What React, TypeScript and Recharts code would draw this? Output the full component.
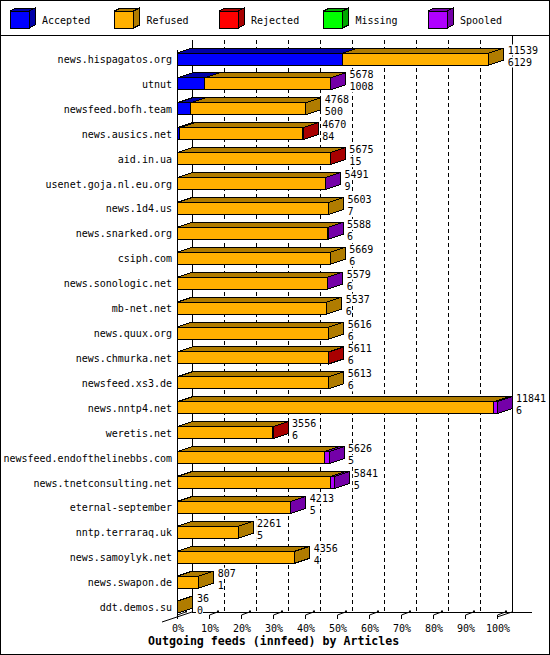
import React from 'react';
import { BarChart, Bar, XAxis, YAxis, CartesianGrid, LabelList } from 'recharts';

// innfeed outgoing feeds, one entry per peer
const hosts = [
  'news.hispagatos.org', 'utnut', 'newsfeed.bofh.team', 'news.ausics.net', 'aid.in.ua',
  'usenet.goja.nl.eu.org', 'news.1d4.us', 'news.snarked.org', 'csiph.com', 'news.sonologic.net',
  'mb-net.net', 'news.quux.org', 'news.chmurka.net', 'newsfeed.xs3.de', 'news.nntp4.net',
  'weretis.net', 'newsfeed.endofthelinebbs.com', 'news.tnetconsulting.net', 'eternal-september',
  'nntp.terraraq.uk', 'news.samoylyk.net', 'news.swapon.de', 'ddt.demos.su',
];
const totals = [11539, 5678, 4768, 4670, 5675, 5491, 5603, 5588, 5669, 5579, 5537, 5616, 5611, 5613, 11841, 3556, 5626, 5841, 4213, 2261, 4356, 807, 36];
const accepted = [6129, 1008, 500, 84, 15, 9, 7, 6, 6, 6, 6, 6, 6, 6, 6, 6, 5, 5, 5, 5, 4, 1, 0];
const refused = [5410, 4655, 4268, 4576, 5650, 5477, 5596, 5577, 5663, 5568, 5531, 5610, 5595, 5607, 11715, 3540, 5441, 5686, 4198, 2256, 4352, 806, 36];
const rejected = [0, 0, 0, 10, 10, 0, 0, 0, 0, 0, 0, 0, 10, 0, 0, 10, 0, 0, 0, 0, 0, 0, 0];
const missing = [0, 0, 0, 0, 0, 0, 0, 0, 0, 0, 0, 0, 0, 0, 0, 0, 0, 0, 0, 0, 0, 0, 0];
const spooled = [0, 15, 0, 0, 0, 5, 0, 5, 0, 5, 0, 0, 0, 0, 120, 0, 180, 150, 10, 0, 0, 0, 0];
const xTickPercents = [0, 10, 20, 30, 40, 50, 60, 70, 80, 90, 100];
const maxArticles = 11841;

const series = [
  { key: 'accepted', name: 'Accepted', color: '#0000ff', dark: '#0000a8' },
  { key: 'refused', name: 'Refused', color: '#ffb000', dark: '#b07c00' },
  { key: 'rejected', name: 'Rejected', color: '#ff0000', dark: '#a80000' },
  { key: 'missing', name: 'Missing', color: '#00ff00', dark: '#00a800' },
  { key: 'spooled', name: 'Spooled', color: '#b000ff', dark: '#7400a8' },
];

const data = hosts.map((host, i) => ({
  host,
  accepted: accepted[i],
  refused: refused[i],
  rejected: rejected[i],
  missing: missing[i],
  spooled: spooled[i],
}));

const FONT = '"DejaVu Sans Mono", monospace';
const DX = 15;
const DY = 5;

function Block3D(props: any) {
  const { x, y, width, height, payload, si } = props;
  if (!(width > 0)) return null;
  const s = series[si];
  const isLast = series.slice(si + 1).every((o) => !payload[o.key]);
  const r = x + width;
  return (
    <g shapeRendering="crispEdges">
      <polygon
        points={`${x},${y} ${r},${y} ${r + DX},${y - DY} ${x + DX},${y - DY}`}
        fill={s.dark}
        stroke="#000"
      />
      <rect x={x} y={y} width={width} height={height} fill={s.color} stroke="#000" />
      {isLast && (
        <polygon
          points={`${r},${y} ${r + DX},${y - DY} ${r + DX},${y + height - DY} ${r},${y + height}`}
          fill={s.dark}
          stroke="#000"
        />
      )}
    </g>
  );
}

// two stacked numbers after the bar: total offered, then accepted
function EndLabel(props: any) {
  const { x, y, width, height, index } = props;
  const tx = x + width + 19;
  const c = y + height / 2;
  const lines = [String(totals[index]), String(accepted[index])];
  return (
    <g fontFamily={FONT} fontSize={10} fill="#000">
      {lines.map((t, k) => {
        const base = c - 5.5 + k * 12;
        return (
          <g key={k}>
            <rect x={tx - 1} y={base - 9} width={t.length * 6 + 1} height={11} fill="#fff" />
            <text x={tx} y={base}>{t}</text>
          </g>
        );
      })}
    </g>
  );
}

function XTick(props: any) {
  const { x, payload } = props;
  const pct = Math.round((payload.value / maxArticles) * 100);
  const px = Math.round(x) + 0.5;
  return (
    <g>
      <polyline points={`${px},619 ${px},615 ${px + 8},612`} fill="none" stroke="#000" />
      <rect x={px + 7.5} y={610.5} width={2} height={2} fill="#000" />
      <text x={x + 1} y={632} textAnchor="middle" fontFamily={FONT} fontSize={10} fill="#000">
        {pct}%
      </text>
    </g>
  );
}

function GridLine(p: any) {
  const gx = Math.round(p.x1) + DX + 0.5;
  const edge = Math.abs(p.x1 - 177) < 1 || Math.abs(p.x1 - 497) < 1;
  return (
    <line
      key={`grid-${p.index}`}
      x1={gx}
      x2={gx}
      y1={40}
      y2={612}
      stroke="#000"
      strokeDasharray={edge ? undefined : '4 3'}
      shapeRendering="crispEdges"
    />
  );
}

function Backdrop() {
  return (
    <svg width={550} height={655} style={{ position: 'absolute', left: 0, top: 0 }}>
      <rect x={0.5} y={0.5} width={549} height={654} fill="#fff" stroke="#000" />
      <line x1={0} x2={550} y1={35.5} y2={35.5} stroke="#000" />
      {series.map((s, i) => {
        const lx = 10 + i * 104.5;
        return (
          <g key={s.key} shapeRendering="crispEdges">
            <polygon points={`${lx},11 ${lx + 19},11 ${lx + 25},8 ${lx + 6},8`} fill={s.dark} stroke="#000" />
            <polygon points={`${lx + 19},11 ${lx + 25},8 ${lx + 25},25 ${lx + 19},28`} fill={s.dark} stroke="#000" />
            <rect x={lx} y={11} width={19} height={17} fill={s.color} stroke="#000" />
            <text x={lx + 32} y={24} fontFamily={FONT} fontSize={10} fill="#000" shapeRendering="auto">
              {s.name}
            </text>
          </g>
        );
      })}
      <g stroke="#000" shapeRendering="crispEdges">
        <line x1={192.5} x2={192.5} y1={40} y2={612} />
        <line x1={512.5} x2={512.5} y1={36} y2={612} />
        <line x1={177.5} x2={177.5} y1={50} y2={617} />
        <line x1={192} x2={532} y1={612.5} y2={612.5} />
      </g>
      <line x1={162} y1={622} x2={192} y2={612} stroke="#000" />
      <line x1={497} y1={617} x2={512} y2={612} stroke="#000" />
      <text x={148} y={645} fontFamily={FONT} fontWeight="bold" fontSize={11.6} fill="#000">
        Outgoing feeds (innfeed) by Articles
      </text>
    </svg>
  );
}

export default function App() {
  return (
    <div style={{ position: 'absolute', left: 0, top: 0, width: 550, height: 655 }}>
      <Backdrop />
      <div style={{ position: 'absolute', left: 0, top: 0 }}>
        <BarChart
          width={550}
          height={655}
          data={data}
          layout="vertical"
          barSize={12}
          margin={{ top: 47, right: 53, bottom: 0, left: 0 }}
        >
          <CartesianGrid horizontal={false} vertical={GridLine} />
          <XAxis
            type="number"
            domain={[0, maxArticles]}
            ticks={xTickPercents.map((p) => (p / 100) * maxArticles)}
            axisLine={false}
            tickLine={false}
            tickSize={0}
            tickMargin={0}
            height={35}
            tick={<XTick />}
            interval={0}
          />
          <YAxis
            type="category"
            dataKey="host"
            width={177}
            axisLine={false}
            tickLine={false}
            tickSize={0}
            tickMargin={5}
            interval={0}
            tick={{ fill: '#000', fontSize: 10, fontFamily: FONT }}
          />
          {series.map((s, i) => (
            <Bar
              key={s.key}
              dataKey={s.key}
              name={s.name}
              stackId="feeds"
              fill={s.color}
              isAnimationActive={false}
              shape={(p: any) => <Block3D {...p} si={i} />}
            >
              {i === series.length - 1 && <LabelList content={(p: any) => <EndLabel {...p} />} />}
            </Bar>
          ))}
        </BarChart>
      </div>
    </div>
  );
}
